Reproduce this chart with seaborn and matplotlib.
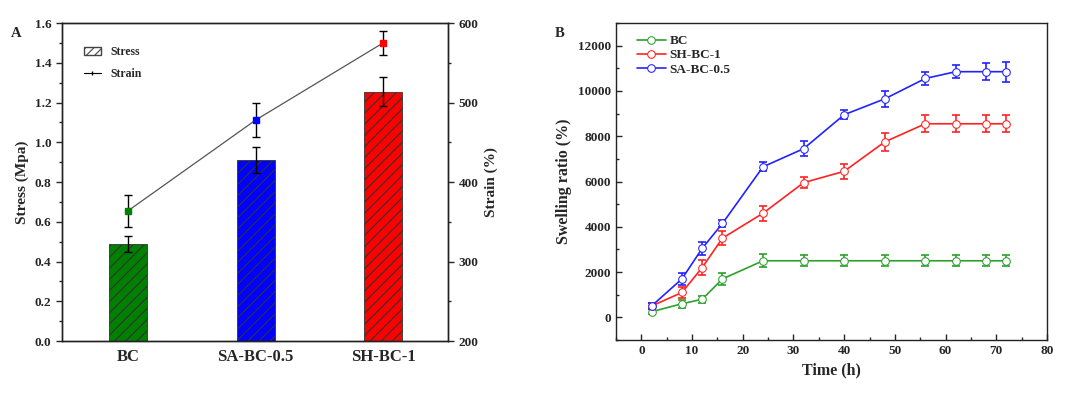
import numpy as np
import pandas as pd
import matplotlib
matplotlib.use("Agg")
import matplotlib.pyplot as plt
from matplotlib.ticker import MultipleLocator
import seaborn as sns

# panel A data
samples = ["BC", "SA-BC-0.5", "SH-BC-1"]
stress = [0.49, 0.91, 1.255]
stress_err = [0.04, 0.065, 0.072]
strain = [364, 478, 575]
strain_err = [20, 22, 15]
bar_colors = ["#008000", "#0000ff", "#ff0000"]

# panel B data
time_h = [2, 8, 12, 16, 24, 32, 40, 48, 56, 62, 68, 72]
swell_bc = [250, 600, 800, 1700, 2500, 2500, 2500, 2500, 2500, 2500, 2500, 2500]
swell_bc_err = [120, 180, 150, 280, 280, 250, 250, 250, 250, 250, 250, 250]
swell_sh = [500, 1100, 2200, 3500, 4600, 5950, 6450, 7750, 8550, 8550, 8550, 8550]
swell_sh_err = [150, 250, 350, 300, 330, 250, 330, 400, 380, 380, 380, 380]
swell_sa = [500, 1700, 3050, 4150, 6650, 7450, 8950, 9650, 10550, 10850, 10850, 10850]
swell_sa_err = [150, 250, 300, 150, 200, 330, 200, 350, 280, 280, 380, 450]

sns.set_theme(style="ticks")
plt.rcParams["font.family"] = ["Liberation Serif", "DejaVu Serif"]
plt.rcParams["font.weight"] = "bold"
plt.rcParams["axes.labelweight"] = "bold"
plt.rcParams["hatch.linewidth"] = 0.8

fig = plt.figure(figsize=(10.8, 3.94), dpi=100)
axA = fig.add_axes([0.0574, 0.1345, 0.3576, 0.8071])
axB = fig.add_axes([0.5704, 0.137, 0.399, 0.8046])

# ---- panel A ----
dfA = pd.DataFrame({"sample": samples, "stress": stress})
sns.barplot(data=dfA, x="sample", y="stress", hue="sample", palette=bar_colors,
            saturation=1, width=0.3, edgecolor="#333333", linewidth=0.6,
            legend=False, ax=axA)
for p in axA.patches:
    p.set_hatch("///")
xpos = np.arange(len(samples))
axA.errorbar(xpos, stress, yerr=stress_err, fmt="none", ecolor="black",
             elinewidth=1.0, capsize=3, capthick=1.0)
axA.set_xlim(-0.52, 2.51)
axA.set_ylim(0, 1.6)
axA.yaxis.set_major_locator(MultipleLocator(0.2))
axA.yaxis.set_minor_locator(MultipleLocator(0.1))
axA.yaxis.set_major_formatter(matplotlib.ticker.FormatStrFormatter("%.1f"))
axA.tick_params(axis="y", direction="out", length=4, width=1, labelsize=9.5)
axA.tick_params(axis="y", which="minor", direction="out", length=2.5, width=1)
axA.tick_params(axis="x", length=0, labelsize=12, pad=6)
axA.set_xlabel("")
axA.set_ylabel("Stress (Mpa)", fontsize=11)
for s in axA.spines.values():
    s.set_linewidth(1.0)
    s.set_color("#222222")

axA2 = axA.twinx()
axA2.plot(xpos, strain, color="#555555", linewidth=0.9, zorder=2)
axA2.errorbar(xpos, strain, yerr=strain_err, fmt="none", ecolor="black",
              elinewidth=1.0, capsize=3, capthick=1.0, zorder=3)
for x, y, c in zip(xpos, strain, bar_colors):
    axA2.plot(x, y, marker="s", markersize=4.5, color=c, zorder=4)
axA2.set_ylim(200, 600)
axA2.yaxis.set_major_locator(MultipleLocator(100))
axA2.yaxis.set_minor_locator(MultipleLocator(50))
axA2.tick_params(axis="y", direction="out", length=4, width=1, labelsize=9.5)
axA2.tick_params(axis="y", which="minor", direction="out", length=2.5, width=1)
axA2.set_ylabel("Strain (%)", fontsize=11)
for s in axA2.spines.values():
    s.set_linewidth(1.0)
    s.set_color("#222222")

h_stress = matplotlib.patches.Patch(facecolor="white", edgecolor="#444444",
                                    hatch="////", label="Stress")
h_strain = matplotlib.lines.Line2D([], [], color="black", linewidth=0.8,
                                   marker="|", markersize=3, label="Strain")
axA2.legend(handles=[h_stress, h_strain], loc="upper left", frameon=False,
            bbox_to_anchor=(0.03, 0.96), fontsize=8.5, handlelength=1.4,
            labelspacing=0.8)
fig.text(0.010, 0.905, "A", fontsize=10.5, fontweight="bold")

# ---- panel B ----
dfB = pd.concat([
    pd.DataFrame({"time": time_h, "ratio": swell_bc, "err": swell_bc_err, "group": "BC"}),
    pd.DataFrame({"time": time_h, "ratio": swell_sh, "err": swell_sh_err, "group": "SH-BC-1"}),
    pd.DataFrame({"time": time_h, "ratio": swell_sa, "err": swell_sa_err, "group": "SA-BC-0.5"}),
])
line_colors = {"BC": "#2ca02c", "SH-BC-1": "#ff2222", "SA-BC-0.5": "#2222ff"}
sns.lineplot(data=dfB, x="time", y="ratio", hue="group", palette=line_colors,
             marker="o", markersize=5.5, linewidth=1.2, ax=axB)
for ln in axB.lines:
    ln.set_markeredgecolor(ln.get_color())
    ln.set_markerfacecolor("white")
for g in ["BC", "SH-BC-1", "SA-BC-0.5"]:
    d = dfB[dfB["group"] == g]
    axB.errorbar(d["time"], d["ratio"], yerr=d["err"], fmt="none",
                 ecolor=line_colors[g], elinewidth=1.2, capsize=3, capthick=1.2,
                 zorder=1)
axB.set_xlim(-5, 80)
axB.set_ylim(-1000, 13000)
axB.xaxis.set_major_locator(MultipleLocator(10))
axB.xaxis.set_minor_locator(MultipleLocator(5))
axB.yaxis.set_major_locator(MultipleLocator(2000))
axB.yaxis.set_minor_locator(MultipleLocator(1000))
axB.tick_params(axis="both", direction="in", length=4, width=1, labelsize=9.5)
axB.tick_params(axis="both", which="minor", direction="in", length=2.5, width=1)
axB.set_xlabel("Time (h)", fontsize=11.5)
axB.set_ylabel("Swelling ratio (%)", fontsize=11.5)
for s in axB.spines.values():
    s.set_linewidth(1.0)
    s.set_color("#222222")
handles, labels = axB.get_legend_handles_labels()
for h in handles:
    h.set_markerfacecolor("white")
    h.set_markeredgecolor(h.get_color())
axB.legend(handles, labels, loc="upper left", frameon=False,
           bbox_to_anchor=(0.02, 1.0), fontsize=9.5, handlelength=2.2,
           labelspacing=0.15, handletextpad=0.3)
fig.text(0.514, 0.905, "B", fontsize=10.5, fontweight="bold")

fig.savefig("out.png", dpi=100)
